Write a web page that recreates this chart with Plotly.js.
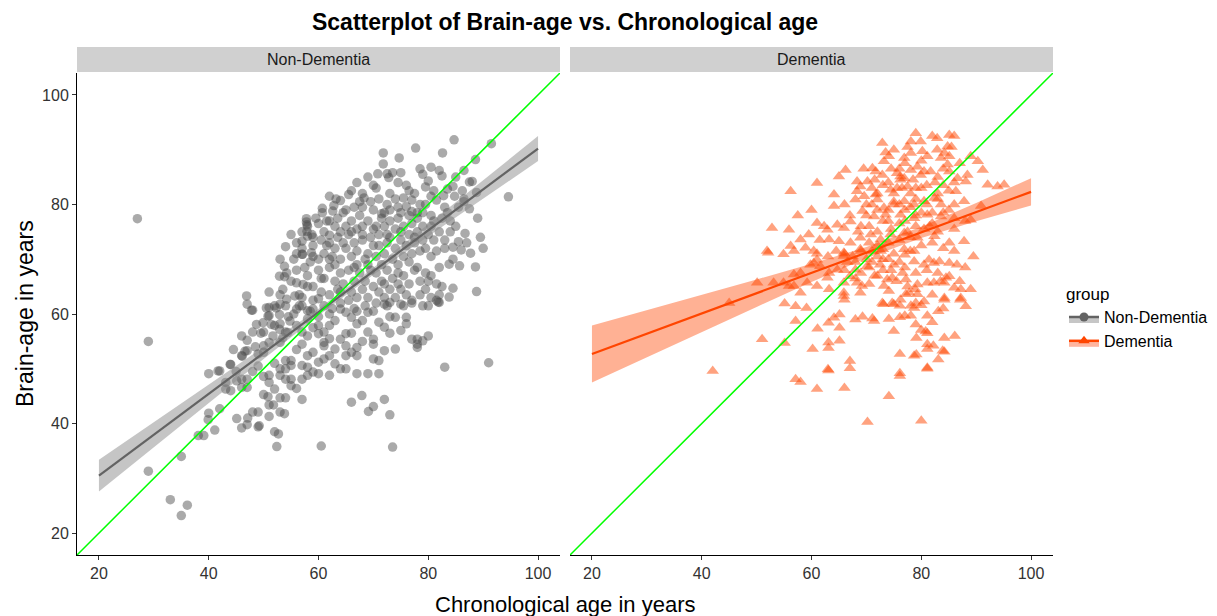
<!DOCTYPE html>
<html><head><meta charset="utf-8">
<script src="https://cdn.plot.ly/plotly-3.0.1.min.js"></script>
<style>html,body{margin:0;padding:0;background:#fff}#chart{width:1217px;height:616px}</style>
</head><body><div id="chart"></div>
<script>
const panels = ["Non-Dementia", "Dementia"];
const tickValues = [20, 40, 60, 80, 100];
const axisRange = [16, 104];

// [chronological age, brain-age]
const nonDementiaPoints = [
[27,77.4],[29,55],[29,31.3],[33,26.1],[35,23.2],[36.1,25.1],[35,34],[38.1,37.8],[39.1,37.8],[40,41.9],[39.9,40.7],[41.1,38.8],[42,42.7],[40,49.1],[42,49.6],[43.1,46.3],[44,50.8],[45.1,40.9],[46,39.2],[47,39.8],[47.1,41],[48,42.1],[49,42.1],[49,39.4],[49.2,39.6],[52,38.5],[52.4,35.8],[60.5,35.9],[73.5,35.7],[53,42.1],[51,41.3],[51,43.4],[57,44.4],[54,44.7],[53,44.7],[50,45.3],[66,43.9],[67.9,45.1],[69.1,42.2],[70,43.1],[72,44.4],[73,41.6],[83,50.3],[91,51.1],
[46,56],[47,55.2],[47,53.3],[46,52.4],[48,56.7],[48,60.7],[50,56.7],[51,59.7],[51,61.2],[49,52.7],[50,54.2],[50,53],[51,54.8],[52,61.5],[53,61.8],[54,61.5],[52,57.9],[53,58.2],[54,56.7],[53,54.8],[46,48.1],[46,46.6],[47,48.1],[47,46.6],[43.1,47.5],[45.1,47.8],[50,48.6],[51,47.5],[51,48.8],[52,46.3],[53,48.8],[53,50],[54,48.1],[54,50],[55,50.6],[54,51.5],[55,51.5],[55,48.1],[55,46.9],[56,46.4],[57,48.1],[57,50.6],[58,48.8],[58,50.3],[59,49.4],[58,52.4],[59,53],[60,51.2],[61,51.8],[61,54.2],[62,52.4],[63,53.6],[60,49.1],[62,48.8],[63,50.9],[64,50],[65,50],[65,52.4],[65,54.2],[66,53],[67,53.9],[67,52.4],[67,49.1],[69,49.1],[71,49.1],[70,51.8],[71,51.5],[70,55.4],[70,54.5],[72,53.3],[74,53.6],[72,57.6],[74,59.4],[76,58.2],[76,59.4],[78,55.4],[78,54.5],[79,55.1],[78,53.9],[80,56],[77,55.4],[72,61.8],[73,62.1],[75,61.8],[77,62],[79,61.5],[80,61.5],[82,62.1],[64,60.9],[65,60.3],[66,59.4],[67,58.2],[69,60.3],[69,56.7],[68,58.8],[60,57.9],[61,56.7],[62,57.9],[63,58.8],[60,56.4],[61,54.8],[58,59.1],[56,60.9],[57,61.5],[58,60.6],[59,60.9],[56,57.9],[57,56.7],[58,56],[65,56.4],[64,55.4],[44,46],[45,49.5],[48,49.5],[49,50.5],[52,51],[56,53.5],[57,54.5],[59,57.5],[62,55.5],[66,56.5],[68,55],[73,56.5],[75,57],[71,58.5],[50.8,44.9],[51.8,43.4],[53.8,41.8],[52.7,38.1],
[47,61.8],[46.9,63.3],[47.8,60.7],[41.7,49.6],[43.9,50.8],[46.1,52.3],[46.6,53.2],[52.9,66.9],[54.2,67.5],[56,65.7],[57.2,65.4],[57.1,70.9],[58.7,71.2],[50.5,61.1],[52.3,61.1],[50.8,59.6],[52.9,59.9],[54.2,62.7],[55.7,63.3],[48.7,58.1],[49.9,58.4],[51.4,58.1],[52.9,57.2],[51.7,56],[53.5,55.7],[54.4,56.6],[54.8,58.7],[53.8,68.7],[53.8,66.8],[57,70.9],[57.9,76.3],[57.9,75.1],[58.8,74.5],[57,73.3],[60.7,78.5],[62.6,78.8],[62,74.4],
[51,64],[53.5,64.5],[56,68],[58,67],[59,65],[57,63],[59,62.5],[56.5,61.5],[58.5,60.5],[55.5,60],
[60,68],[61,66.5],[62,68.5],[63,66],[64,67.5],[60.5,64],[62,63.5],[63.5,64.5],[61,61.5],[62.5,61],[64,62],[60,62.8],[64.5,65.5],
[65.5,68],[66.5,66],[67.5,67.5],[68.5,66],[69.5,68],[66,64],[67,63],[68,64.5],[69,63],[65.5,62.5],[68.5,61.5],[70,65],
[70.5,67.5],[71.5,66],[72.5,68],[73.5,66.5],[74.5,67.5],[71,64],[72,63],[73,64.5],[74,63],[70.5,62],[72.5,61.5],[74.5,65.5],
[75.5,67],[76.5,65.5],[77.5,68],[78.5,66],[79.5,67.5],[76,63.5],[77,62.5],[78.5,63.5],[79.5,64.5],[75.5,61.5],
[80.5,67],[81.5,65.5],[82,68.5],[80.5,63],[81.5,62.5],
[83.8,69.1],[85.7,68.8],[88.8,64.1],[84.5,64.7],[83.8,63.1],[82,63.5],[82.5,65],[81.8,62.2],
[55,74.5],[56,73],[57,75],[58,74.2],[58,76],[59,72.5],[56,71],[57,72],[59,70.5],[55.5,70],[54,72.3],[53,70],
[60,76.5],[61,75],[62,77],[63,76],[64,75],[60.5,73.5],[62,73],[63,72],[64.5,73],[61,71],[62.5,70.5],[64,70],[60,70],[63.5,77.5],[65,76],
[65.5,74.5],[66,77],[67,75.5],[68,76],[69,77],[66.5,73],[68,73.5],[69.5,74],[65,72],[67,71.5],[69,71],[66,70.5],[68.5,70],[70,72.5],[67.5,78],
[70.5,76],[71,74.5],[72,76],[73,74],[74,75.5],[71,72.5],[72.5,73],[74,72],[70.5,70.5],[72,71],[73.5,70],[75,73.5],[73,77],[71.5,77.5],[74.5,77.5],
[75.5,76],[76.5,74.5],[77,76.5],[78,75],[79,76],[76,72.5],[77.5,73],[79,73.5],[75.5,70.5],[77,71],[78.5,71.5],[80,74.5],[78,78.5],[76.5,78],
[80.5,76],[81,73.5],[82,75],[83,73.5],[84,75],[81.5,71.5],[83,72],[84.5,70],[82.5,77.5],[84,77],
[87.7,71.1],[88.6,68.6],[86.7,74.7],[84.5,72.2],[86,71.7],[87,73],[89.5,74],[90,72],[85.5,73.2],
[84.7,91.8],[91.5,91.1],[77.7,90.3],[82.6,89.4],[71.8,89.4],[71.8,87.4],[74.7,88.5],[88.6,88.2],[78.5,86.5],[80.5,86.8],[82,86.2],[82.5,85.2],[79,85.5],[80,84.3],[79.5,83.2],[70.8,85.6],[72.5,85.6],[73.5,85.8],[75,85.8],[72.8,84.9],[86.5,86.2],[85,85],[84.5,83.3],[83.5,82.8],[84.8,81.5],[82.8,81.6],[86.5,81],[81,82.5],[81.5,80.8],[79.5,80],[78.5,80],[94.6,81.4],[66,82.5],[68,82],[63.2,81],[64,80.7],[65.5,81.8],[68.3,81.2],[73,82],[74,81],[75.5,81.2],[74.5,79.5],[73,79],[72,78.5],[76,79.6],[77,80.8],[60.7,79.3],[62.8,79.8],[64.5,78.5],[68,79.5],[70,79],[71.5,78.3],[57.8,77.4],[57.8,76.8],[88,84.2],[87.5,79.2],[86.5,80.5],[88.8,82.2],[87.5,84.1],[86.2,82.5],[85.5,79.5],[83.5,78.5],[80.5,78],[78,77.5],[89,77.5],[70,83.5],[76,83.5],[77.5,82],[69,85],[67,84],
[62,81.5],[66.5,79.5],[69.5,80.5],[71,81],[72.5,80],[75,78.5],[77,78.7],[79,78.5],[80.5,81.5],[76.5,82.5],[74.5,84],[70.5,83],[67.5,80.5],[65,79],[61.5,77],[59.5,77.5],[59,74],[61.5,72.5],[63.5,74],[66,75],[68,74.5],[70,75.5],[72.5,74.5],[75,75],[77.5,74],[79.5,72],[81,77],[83,79.5],[85,76],[76.5,69.5],[74.5,69],[71.5,69],[69,69],[66.5,68.5],[63,69],[60.5,66.5],[58,65],[56.5,63.5],[55,66],[57.5,68.5],[64,64],[66.5,61],[70,60.5],[75,64.5],[78,68.5],[80.5,70.5],[73,59.5],[67,60.5],[62,60],[60,59.5],[54.5,59.5],[53,63.5],[49.5,56.5],[48.5,54],[44.5,53.5],[58.5,69.5],[62,70],[67,69],[72,65.5],[80,66]
];

const dementiaPoints = [
[42,49.6],[45,62],[51,55.4],[55.1,54.7],[57.1,48.1],[58,47.6],[61,46.3],[63.1,49.7],[66,46.5],[67,51.4],[67,50.1],[70.2,40.3],[74.1,45],[76.1,52.7],[76.1,49.2],[76.1,48.7],[79.1,52.6],[80,40.5],[81.1,50],[83.1,51.7],[84.2,53.1],[84.2,55.6],[86.1,56],[81.1,54.5],[82.2,54.2],[79.1,55.6],[80,57.1],[80.8,56.8],[81.1,56.5],[82,58.5],[83.1,60.5],[81.1,59.7],[75,56.9],[74.1,59.1],[76.1,59.4],[77,59.7],[78.1,59.7],[76.1,61.5],[75,61.8],[78.1,61.5],[80,61.6],[71.1,59.2],[71.4,58.7],[69.3,59.5],[68,59],[73.1,61.8],[65.1,57.5],[65.1,59.9],[64.1,59.3],[63.1,58.4],[65.1,55.1],[63.1,54.8],[63.1,53.8],[61.1,57.3],[60.2,53.6],[63,49.9],[57.1,58.7],[59.1,61.1],[57.1,61.4],[55.1,61.9],[66,62.6],[84.2,62.6],[87.1,62.6],[88.1,61.4],[81.1,53.6],[79,58.1],[83.9,53.3],[78.7,52.4],[81.1,50.2],[72.9,62],[74.7,62],[80.5,62.3],[78.7,61.1],
[52.1,71.2],[54.9,70.9],[56.8,71.5],[60.4,71.5],[61,71],[60.4,69.3],[59.8,69],[61.6,68.7],[58,67.5],[56.8,67.2],[59.2,65.7],[56.8,65.1],[58,63.9],[61,65.1],[63.2,64.5],[62.9,66.6],[50.1,65.7],[53.1,65.7],[54.9,65.7],[55.9,65.1],[65.9,63.9],[65.9,63.3],[68.9,63.9],[69.2,65.1],[68.3,65.7],[65.9,65.7],[67,66.9],[68,68.1],[70.1,68.7],
[78.9,64.5],[79.3,65.4],[81.1,65.7],[82.3,65.7],[83.5,66],[84.2,65.7],[85.1,66.9],[86,64.8],[87.2,64.5],[89,64.5],[87.2,62.9],[84.2,62.9],[84.5,66.6],[85.1,69.3],[82.3,69.3],[80.5,69],[78.7,69.6],[81.4,69.9],[83.3,69.6],[76.6,67.5],[77.2,66.3],[74.7,66.6],[73.8,66.3],[76.2,62.6],[77.8,63.9],[79.3,63.6],[77.2,63.6],[74.1,64.2],[73.2,65.1],
[63.2,67.5],[64.7,68.1],[65.9,70.6],[66.5,69.5],
[66,71],[67.5,70.5],[69,71.5],[70,70],[71,71.5],[72,70.5],[73,71.8],[74,70],[75,71],[76,69.5],[77,70.8],[78,71.5],[68,69.5],[70.5,68.5],[72.5,69],[74.5,68],[69,67.5],[71.5,67],[73,68],
[85.1,92.7],[82.9,92.1],[79.9,91.5],[78.1,91.5],[72.9,91.2],[84.8,90.6],[82.9,90],[84.2,89.4],[80.2,89.7],[78.1,89.4],[76.9,88.5],[74.1,88.8],[73.2,87.9],[81.1,88.8],[83.6,88.5],[85.1,88.8],[71.1,86.6],[71.7,86],[72.9,85.4],[75.6,85.7],[76.2,85.1],[78.1,86.3],[79.3,86.9],[79.9,85.4],[81.7,86],[84.8,87.3],[85.1,86],[86.6,84.8],[88.4,85.4],[88.1,84.2],[89,88.8],[90.3,87.9],[91.2,86.3],[92.1,83.6],[93.9,83.3],[95.1,83.6],[66.2,86.3],[65,85.1],[61,83.9],[56.2,82.4],[68.3,84.2],[68.9,83.3],[70.2,84.2],[64.1,81.8],[64.1,79.7],[68.3,82.4],[68,80.9],[69.6,81.5],[71.7,81.8],[72,80.9],[74.4,82.7],[75.6,83],[76.2,84.5],[76.9,84.8],[77.5,83.3],[79,83],[73.2,79.4],[75,80],[76.9,80.6],[78.7,80],[80.5,80.6],[82.4,81.2],[83.6,80],[86,80],[86.3,82.4],[87.8,80.6],[69.3,78.8],[71.4,77.8],[73.5,78.1],[76.2,78.1],[78.7,77.5],[81.1,78.1],[83.6,77.8],[86,77.5],[89,77.2],[90.9,79.7],[52.8,75.7],[55.9,75.4],[61,76.6],[62.9,75.4],[64.7,76.3],[65.9,75.7],[67.1,76.9],[58,73.6],[56.2,72.4],[63.2,73.6],[65,73.3],[67.1,73],[68.9,73.9],[70.8,74.5],[72.6,73.6],[74.4,74.5],[76.9,74.8],[79.3,73.9],[82.4,74.2],[85.1,73],[87.8,73.3],[51.9,71.5],[65.9,71.2],[68.9,71.8],[72.6,71.5],[76.9,71.8],[78.7,71.5],
[70,80],[71,83],[72,79],[73,83.5],[74,77],[75,80.5],[76,76.5],[77,79],[78,82],[79,76],[80,78.5],[81,83.5],[82,76.5],[83,82],[84,78.5],[85,82.5],[70.5,76],[72,75],[74.5,75.5],[77.5,75],[80.5,75.5],[83,75],[86,75.5],[88,77],[76,86.5],[74,84],[78.5,84.5],[80,88],[77,87.5],[75,90],[83,85],[85.5,90.5],[82,92.5],[79,93],[86,92.5],[62.3,76],[58.9,72.1],[61,69.9],
[69,76],[70,78],[71,80],[72,82],[73,77],[74,79],[75,82],[76,80],[77,77],[78,79.5],[79,81],[80,83],[81,80],[82,78.5],[83,81],[84,83.5],[85,79],[86,84],[70.5,73],[72,72.5],[74,73],[76,73.5],[78,74],[80,72.5],[82,73],[84,72],[86,71.5],[71,69.5],[73,70],[75,69],[77,68.5],[79,67.5],[81,68],[83,67.5],[75.5,66],[77.5,65],[70.5,65.5],[72,67],[68.5,75],[67,78],[66,80],[69.5,86.5],[73.5,89.5],[77.5,90.5],[80.5,86],[82.5,84],[84,86.5],[87,87.5],[76.5,83],[79,78],[81.5,76],[74.5,86.5],[71.5,84.5],[63,70.5],[64.5,71.5],[61.5,73.5],[59.5,74.5],[60,79],[57.5,78],[66,68],[68,66.5],[88,68.5],[87,66],[89.5,70.5],[86.5,69],[84,61],[82,63.5],[79,62]
];

// fitted lines and 95% bands
const fitAges = [20, 30, 40, 50, 60, 70, 80, 90, 100];
const nonDementiaFit   = [30.5, 37.96, 45.43, 52.89, 60.35, 67.81, 75.28, 82.74, 90.2];
const nonDementiaLower = [27.6, 35.68, 43.76, 51.79, 59.72, 67.18, 74.18, 81.07, 87.92];
const nonDementiaUpper = [33.4, 40.24, 47.1, 53.99, 60.98, 68.44, 76.38, 84.41, 92.48];
const dementiaFit   = [52.7, 56.4, 60.1, 63.8, 67.5, 71.2, 74.9, 78.6, 82.3];
const dementiaLower = [47.5, 52.12, 56.72, 61.3, 65.83, 70.17, 73.87, 76.93, 79.8];
const dementiaUpper = [57.9, 60.68, 63.48, 66.3, 69.17, 72.23, 75.93, 80.27, 84.8];

const FONT = "Liberation Sans, Arial, sans-serif";
const grayCol = "#636363", redCol = "#ff4500";
const grayFill = "rgba(140,140,140,0.5)", redFill = "rgba(255,69,0,0.42)";

function ribbon(lower, upper, xa, fill) {
  return {x: fitAges.concat(fitAges.slice().reverse()),
          y: upper.concat(lower.slice().reverse()),
          xaxis: xa, yaxis: "y", type: "scatter", mode: "lines", fill: "toself",
          fillcolor: fill, line: {width: 0}, hoverinfo: "skip", showlegend: false};
}

const traces = [
  {x: nonDementiaPoints.map(p => p[0]), y: nonDementiaPoints.map(p => p[1]), xaxis: "x", yaxis: "y",
   type: "scatter", mode: "markers", showlegend: false,
   marker: {symbol: "circle", size: 9.5, color: "#4d4d4d", opacity: 0.48}},
  {x: dementiaPoints.map(p => p[0]), y: dementiaPoints.map(p => p[1]), xaxis: "x2", yaxis: "y",
   type: "scatter", mode: "markers", showlegend: false,
   marker: {symbol: "triangle-up", size: 11, color: redCol, opacity: 0.5}},
  ribbon(nonDementiaLower, nonDementiaUpper, "x", grayFill),
  ribbon(dementiaLower, dementiaUpper, "x2", redFill),
  {x: fitAges, y: nonDementiaFit, xaxis: "x", yaxis: "y", type: "scatter", mode: "lines",
   line: {color: grayCol, width: 2.2}, showlegend: false},
  {x: fitAges, y: dementiaFit, xaxis: "x2", yaxis: "y", type: "scatter", mode: "lines",
   line: {color: redCol, width: 2.2}, showlegend: false},
  {x: [null], y: [null], xaxis: "x", yaxis: "y", type: "scatter", mode: "lines+markers", name: panels[0],
   fill: "toself", fillcolor: "rgba(160,160,160,0.6)", line: {color: grayCol, width: 2.5},
   marker: {symbol: "circle", size: 9, color: grayCol}},
  {x: [null], y: [null], xaxis: "x", yaxis: "y", type: "scatter", mode: "lines+markers", name: panels[1],
   fill: "toself", fillcolor: "rgba(255,120,80,0.55)", line: {color: redCol, width: 2.5},
   marker: {symbol: "triangle-up", size: 10, color: redCol}}
];

const plotL = 77, plotR = 1053, plotT = 73, plotB = 555;
const W = plotR - plotL, H = plotB - plotT;
const dom1 = [0, (560 - plotL) / W], dom2 = [(570 - plotL) / W, 1];
const stripY0 = (plotB - 72) / H, stripY1 = (plotB - 47) / H;

const xBase = {range: axisRange, tickvals: tickValues, showgrid: false, zeroline: false,
  showline: true, linecolor: "#000", linewidth: 1, ticks: "outside", ticklen: 4, tickcolor: "#333",
  tickfont: {family: FONT, size: 16, color: "#333"}, anchor: "y"};

const shapes = [];
[["x", dom1], ["x2", dom2]].forEach(([xa, dom]) => {
  shapes.push({type: "rect", xref: "paper", yref: "paper", x0: dom[0], x1: dom[1], y0: stripY0, y1: stripY1,
    fillcolor: "#d0d0d0", line: {width: 0}, layer: "below"});
  shapes.push({type: "line", xref: xa, yref: "y", x0: axisRange[0], y0: axisRange[0], x1: axisRange[1], y1: axisRange[1],
    line: {color: "#00ff00", width: 1.5}, layer: "above"});
});

const annotations = [
  {text: panels[0], xref: "paper", yref: "paper", x: (dom1[0] + dom1[1]) / 2, y: (stripY0 + stripY1) / 2,
   xanchor: "center", yanchor: "middle", showarrow: false, font: {family: FONT, size: 16, color: "#1a1a1a"}},
  {text: panels[1], xref: "paper", yref: "paper", x: (dom2[0] + dom2[1]) / 2, y: (stripY0 + stripY1) / 2,
   xanchor: "center", yanchor: "middle", showarrow: false, font: {family: FONT, size: 16, color: "#1a1a1a"}},
  {text: "Chronological age in years", xref: "paper", yref: "paper", x: 0.5, y: -49 / H,
   xanchor: "center", yanchor: "middle", showarrow: false, font: {family: FONT, size: 22, color: "#000"}},
  {text: "Brain-age in years", xref: "paper", yref: "paper", x: (25 - plotL) / W, y: 0.5, textangle: -90,
   xanchor: "center", yanchor: "middle", showarrow: false, font: {family: FONT, size: 23, color: "#000"}}
];

const layout = {
  width: 1217, height: 616, paper_bgcolor: "#fff", plot_bgcolor: "#fff",
  margin: {l: plotL, r: 1217 - plotR, t: plotT, b: 616 - plotB, autoexpand: false},
  font: {family: FONT},
  title: {text: "<b>Scatterplot of Brain-age vs. Chronological age</b>", x: 0.5, xref: "paper", xanchor: "center",
          y: 1 - 22 / 616, yref: "container", yanchor: "middle", font: {family: FONT, size: 23, color: "#000"}},
  xaxis: Object.assign({}, xBase, {domain: dom1}),
  xaxis2: Object.assign({}, xBase, {domain: dom2}),
  yaxis: {range: axisRange, tickvals: tickValues, showgrid: false, zeroline: false, showline: true,
    linecolor: "#000", linewidth: 1, ticks: "outside", ticklen: 4, tickcolor: "#333", anchor: "x",
    tickfont: {family: FONT, size: 16, color: "#333"}},
  showlegend: true,
  legend: {x: (1064 - plotL) / W, y: (plotB - 278) / H, xanchor: "left", yanchor: "top",
    title: {text: "group", font: {family: FONT, size: 17, color: "#000"}},
    font: {family: FONT, size: 16, color: "#000"}, bgcolor: "rgba(0,0,0,0)", tracegroupgap: 0},
  shapes: shapes, annotations: annotations
};

Plotly.newPlot("chart", traces, layout, {displayModeBar: false, staticPlot: true});
</script></body></html>
